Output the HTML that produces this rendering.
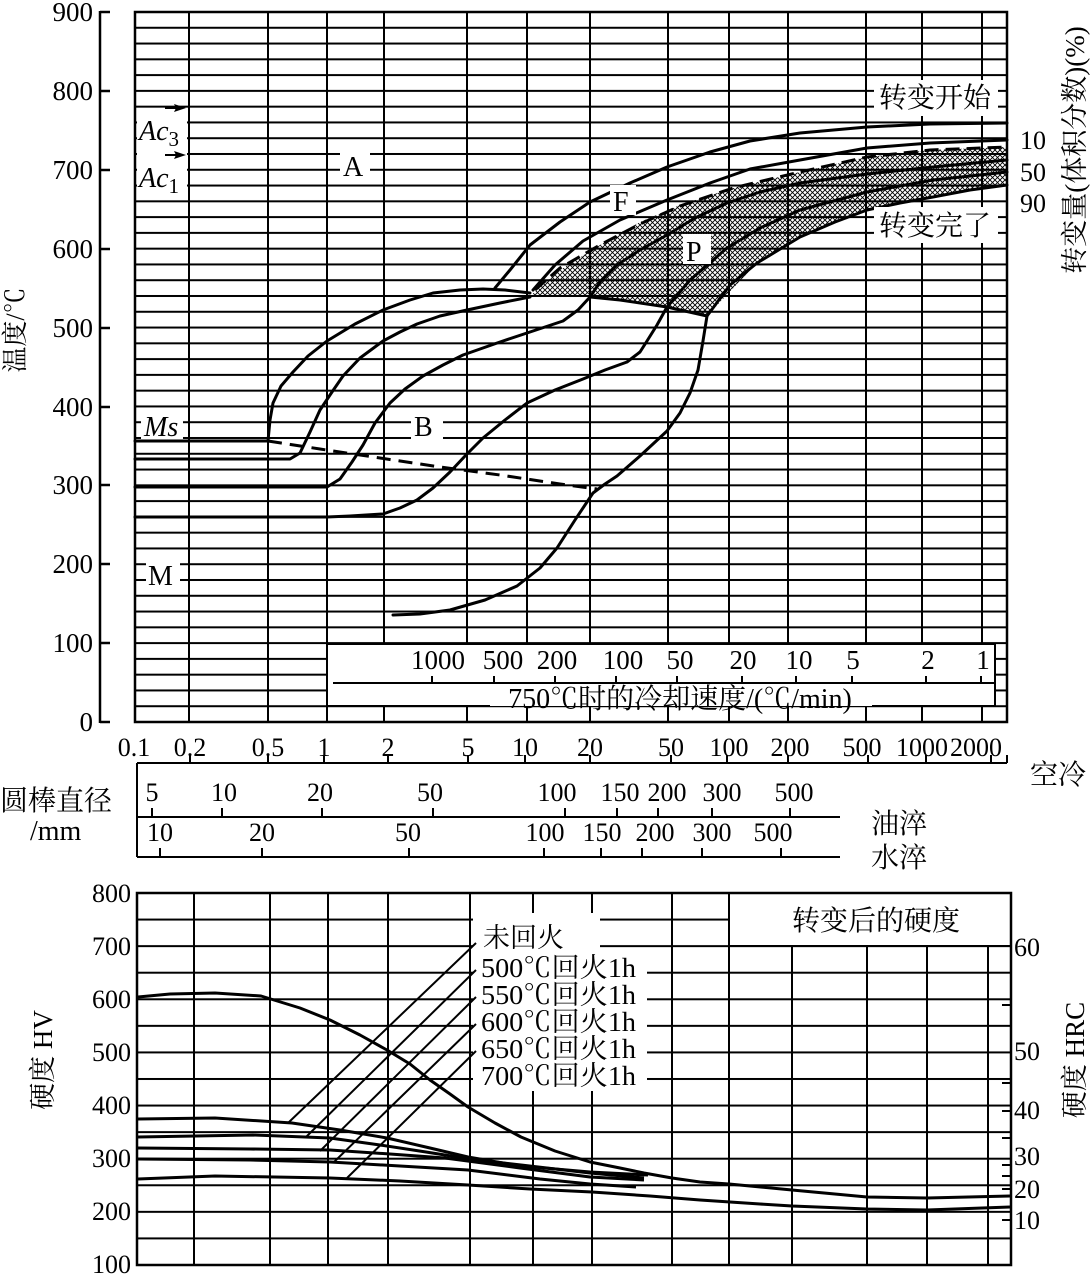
<!DOCTYPE html>
<html><head><meta charset="utf-8"><style>
html,body{margin:0;padding:0;background:#fff}
svg{display:block}
text{font-family:"Liberation Serif","Noto Serif CJK SC",serif;fill:#000}
</style></head><body>
<svg width="1091" height="1275" viewBox="0 0 1091 1275" xmlns="http://www.w3.org/2000/svg">
<defs>
<pattern id="hl" width="1091" height="15.778" patternUnits="userSpaceOnUse" patternTransform="translate(0,722)">
<rect x="0" y="-1" width="1091" height="2" fill="#000"/><rect x="0" y="14.778" width="1091" height="2" fill="#000"/>
</pattern>
<pattern id="hatch" width="5" height="5" patternUnits="userSpaceOnUse">
<path d="M0,0L5,5M5,0L0,5" stroke="#000" stroke-width="0.9"/>
</pattern>
<pattern id="hl2" width="1091" height="26.57" patternUnits="userSpaceOnUse" patternTransform="translate(0,893)">
<rect x="0" y="-1" width="1091" height="2" fill="#000"/><rect x="0" y="25.57" width="1091" height="2" fill="#000"/>
</pattern>
</defs>

<polygon fill="url(#hatch)" points="530,296 560,270 600,245 640,222 680,205 733,188 800,172 867,157 930,150 1007,147 1007,185 933,197 867,210 800,237 757,263 707,316 667,307 590,297"/>
<rect x="135" y="11" width="872" height="712" fill="url(#hl)"/>
<g stroke="#000" stroke-width="2">
<line x1="189" y1="12" x2="189" y2="722"/><line x1="268" y1="12" x2="268" y2="722"/>
<line x1="327" y1="12" x2="327" y2="722"/><line x1="384" y1="12" x2="384" y2="722"/>
<line x1="467" y1="12" x2="467" y2="722"/><line x1="527" y1="12" x2="527" y2="722"/>
<line x1="590" y1="12" x2="590" y2="722"/><line x1="668" y1="12" x2="668" y2="722"/>
<line x1="729" y1="12" x2="729" y2="722"/><line x1="788" y1="12" x2="788" y2="722"/>
<line x1="866" y1="12" x2="866" y2="722"/><line x1="922" y1="12" x2="922" y2="722"/>
<line x1="982" y1="12" x2="982" y2="722"/>
</g>
<rect x="328" y="645" width="667" height="61" fill="#fff"/>
<g stroke="#000" stroke-width="2">
<line x1="327" y1="644" x2="995" y2="644"/>
<line x1="333" y1="683" x2="995" y2="683"/>
<line x1="995" y1="644" x2="995" y2="706"/>
<line x1="327" y1="706" x2="490" y2="706"/><line x1="872" y1="706" x2="995" y2="706"/>
<line x1="432" y1="676" x2="432" y2="683"/><line x1="494" y1="676" x2="494" y2="683"/>
<line x1="555" y1="676" x2="555" y2="683"/><line x1="616" y1="676" x2="616" y2="683"/>
<line x1="677" y1="676" x2="677" y2="683"/><line x1="742" y1="676" x2="742" y2="683"/>
<line x1="796" y1="676" x2="796" y2="683"/><line x1="852" y1="676" x2="852" y2="683"/>
<line x1="926" y1="676" x2="926" y2="683"/><line x1="981" y1="676" x2="981" y2="683"/>
</g>
<g font-size="27" text-anchor="middle">
<text x="438" y="669">1000</text><text x="503" y="669">500</text><text x="557" y="669">200</text>
<text x="623" y="669">100</text><text x="680" y="669">50</text><text x="743" y="669">20</text>
<text x="799" y="669">10</text><text x="853" y="669">5</text><text x="928" y="669">2</text><text x="983" y="669">1</text>
<text x="680" y="708" font-size="28">750℃时的冷却速度/(℃/min)</text>
</g>
<rect x="135" y="12" width="872" height="710" fill="none" stroke="#000" stroke-width="2.5"/>
<g stroke="#000" stroke-width="2.5">
<line x1="100" y1="11" x2="100" y2="723"/>
<line x1="100" y1="12" x2="110" y2="12"/><line x1="100" y1="91" x2="110" y2="91"/>
<line x1="100" y1="170" x2="110" y2="170"/><line x1="100" y1="249" x2="110" y2="249"/>
<line x1="100" y1="328" x2="110" y2="328"/><line x1="100" y1="407" x2="110" y2="407"/>
<line x1="100" y1="485" x2="110" y2="485"/><line x1="100" y1="564" x2="110" y2="564"/>
<line x1="100" y1="643" x2="110" y2="643"/><line x1="100" y1="722" x2="110" y2="722"/>
</g>
<g font-size="27" text-anchor="end">
<text x="93" y="21">900</text><text x="93" y="100">800</text><text x="93" y="179">700</text>
<text x="93" y="258">600</text><text x="93" y="337">500</text><text x="93" y="416">400</text>
<text x="93" y="494">300</text><text x="93" y="573">200</text><text x="93" y="652">100</text><text x="93" y="731">0</text>
</g>
<text transform="translate(24,330) rotate(-90)" font-size="26" text-anchor="middle">温度/℃</text>

<g fill="none" stroke="#000" stroke-width="3" stroke-linejoin="round" stroke-linecap="round">
<polyline points="135,441 268,441"/>
<polyline points="268,441 270,420 273,403 281,386 293,372 308,356 327,341 355,324 383,310 410,300 433,293 460,290 483,289 505,290 530,293"/>
<polyline points="495,288 510,270 530,245 560,222 590,202 630,183 667,167 710,152 750,141 800,133 867,127 930,124 1007,123"/>
<polyline points="135,459 290,459 300,453 310,432 320,410 332,392 343,376 360,358 383,341 400,332 417,324 440,316 467,310 500,303 530,297"/>
<polyline points="135,487 327,487 340,479 352,462 363,445 375,423 390,403 405,389 423,376 443,365 463,355 500,342 533,331 563,321 578,310 590,297"/>
<polyline points="533,290 555,265 583,241 620,220 667,200 710,183 750,169 800,160 867,148 930,143 1007,140"/>
<polyline points="590,297 600,282 617,265 640,250 667,235 695,218 727,203 760,192 800,183 867,174 933,167 1007,160"/>
<polyline points="590,297 620,300 667,307 707,316"/>
<polyline points="667,307 690,280 727,248 760,228 800,210 867,192 933,180 1007,172"/>
<polyline points="707,316 730,285 757,263 800,237 835,222 867,210 900,203 933,197 970,190 1007,185"/>
<polyline points="135,517 327,517 350,516 383,514 400,508 417,500 433,488 450,472 466,455 483,438 505,420 527,403 555,390 583,379 605,370 627,362 640,352 647,341 657,325 667,307"/>
<polyline points="393,615 420,614 450,610 485,600 517,586 540,568 557,548 575,520 593,493 605,484 617,476 640,456 667,431 680,413 690,393 698,370 703,341 707,316"/>
</g>
<polyline points="268,441 320,449 380,458 440,467 500,475 560,484 597,489" fill="none" stroke="#000" stroke-width="3" stroke-dasharray="14,8"/>
<polyline points="535,290 560,268 600,245 640,224 680,206 733,188 800,172 867,157 930,150 1007,147" fill="none" stroke="#000" stroke-width="3" stroke-dasharray="14,7"/>

<g font-size="28">
<rect x="340" y="150" width="30" height="30" fill="#fff"/><text x="343" y="176">A</text>
<rect x="610" y="185" width="26" height="30" fill="#fff"/><text x="613" y="211">F</text>
<rect x="683" y="234" width="28" height="30" fill="#fff"/><text x="686" y="261">P</text>
<rect x="411" y="410" width="32" height="30" fill="#fff"/><text x="414" y="436">B</text>
<rect x="146" y="560" width="34" height="30" fill="#fff"/><text x="148" y="585">M</text>
<rect x="141" y="413" width="42" height="26" fill="#fff"/><text x="144" y="436" font-style="italic">Ms</text>
<rect x="137" y="115" width="50" height="76" fill="#fff"/>
<text x="139" y="140" font-style="italic">Ac<tspan font-size="21" dy="6" font-style="normal">3</tspan></text>
<text x="139" y="187" font-style="italic">Ac<tspan font-size="21" dy="6" font-style="normal">1</tspan></text>
</g>
<g stroke="#000" stroke-width="2"><line x1="165" y1="108" x2="180" y2="108"/><line x1="165" y1="155" x2="180" y2="155"/></g>
<polygon points="186,108 174,104 176,108 174,112" fill="#000"/>
<polygon points="186,155 174,151 176,155 174,159" fill="#000"/>
<rect x="874" y="80" width="124" height="36" fill="#fff"/>
<text x="879" y="107" font-size="28">转变开始</text>
<rect x="874" y="207" width="124" height="36" fill="#fff"/>
<text x="879" y="235" font-size="28">转变完了</text>
<g font-size="26"><text x="1020" y="149">10</text><text x="1020" y="181">50</text><text x="1020" y="212">90</text></g>
<text transform="translate(1084,150) rotate(-90)" font-size="27" text-anchor="middle">转变量(体积分数)(%)</text>

<g font-size="26" text-anchor="middle">
<text x="134" y="756">0.1</text><text x="190" y="756">0.2</text><text x="268" y="756">0.5</text>
<text x="324" y="756">1</text><text x="388" y="756">2</text><text x="468" y="756">5</text>
<text x="525" y="756">10</text><text x="590" y="756">20</text><text x="671" y="756">50</text>
<text x="729" y="756">100</text><text x="790" y="756">200</text><text x="862" y="756">500</text>
<text x="922" y="756">1000</text><text x="976" y="756">2000</text>
</g>
<g stroke="#000" stroke-width="2">
<line x1="137" y1="763" x2="1007" y2="763"/>
<line x1="137" y1="763" x2="137" y2="857"/>
<line x1="137" y1="817" x2="840" y2="817"/>
<line x1="137" y1="857" x2="840" y2="857"/>
<line x1="190" y1="763" x2="190" y2="755"/><line x1="268" y1="763" x2="268" y2="755"/>
<line x1="324" y1="763" x2="324" y2="755"/><line x1="388" y1="763" x2="388" y2="755"/>
<line x1="468" y1="763" x2="468" y2="755"/><line x1="525" y1="763" x2="525" y2="755"/>
<line x1="590" y1="763" x2="590" y2="755"/><line x1="671" y1="763" x2="671" y2="755"/>
<line x1="727" y1="763" x2="727" y2="755"/><line x1="788" y1="763" x2="788" y2="755"/>
<line x1="868" y1="763" x2="868" y2="755"/><line x1="926" y1="763" x2="926" y2="755"/>
<line x1="991" y1="763" x2="991" y2="755"/><line x1="1007" y1="763" x2="1007" y2="755"/>
<line x1="152" y1="817" x2="152" y2="808"/><line x1="222" y1="817" x2="222" y2="808"/>
<line x1="322" y1="817" x2="322" y2="808"/><line x1="433" y1="817" x2="433" y2="808"/>
<line x1="565" y1="817" x2="565" y2="808"/><line x1="617" y1="817" x2="617" y2="808"/>
<line x1="658" y1="817" x2="658" y2="808"/><line x1="712" y1="817" x2="712" y2="808"/>
<line x1="790" y1="817" x2="790" y2="808"/>
<line x1="160" y1="857" x2="160" y2="848"/><line x1="262" y1="857" x2="262" y2="848"/>
<line x1="409" y1="857" x2="409" y2="848"/><line x1="544" y1="857" x2="544" y2="848"/>
<line x1="601" y1="857" x2="601" y2="848"/><line x1="642" y1="857" x2="642" y2="848"/>
<line x1="702" y1="857" x2="702" y2="848"/><line x1="781" y1="857" x2="781" y2="848"/>
</g>
<g font-size="26" text-anchor="middle">
<text x="152" y="801">5</text><text x="224" y="801">10</text><text x="320" y="801">20</text>
<text x="430" y="801">50</text><text x="557" y="801">100</text><text x="620" y="801">150</text>
<text x="667" y="801">200</text><text x="722" y="801">300</text><text x="794" y="801">500</text>
<text x="160" y="841">10</text><text x="262" y="841">20</text><text x="408" y="841">50</text>
<text x="545" y="841">100</text><text x="602" y="841">150</text><text x="655" y="841">200</text>
<text x="712" y="841">300</text><text x="773" y="841">500</text>
</g>
<g font-size="28">
<text x="1030" y="784">空冷</text><text x="871" y="833">油淬</text><text x="871" y="867">水淬</text>
<text x="0" y="810">圆棒直径</text><text x="30" y="840">/mm</text>
</g>

<rect x="137" y="892" width="874" height="374" fill="url(#hl2)"/>
<g stroke="#000" stroke-width="2">
<line x1="194" y1="893" x2="194" y2="1265"/><line x1="270" y1="893" x2="270" y2="1265"/>
<line x1="328" y1="893" x2="328" y2="1265"/><line x1="388" y1="893" x2="388" y2="1265"/>
<line x1="470" y1="893" x2="470" y2="1265"/><line x1="533" y1="893" x2="533" y2="1265"/>
<line x1="592" y1="893" x2="592" y2="1265"/><line x1="672" y1="893" x2="672" y2="1265"/>
<line x1="729" y1="893" x2="729" y2="1265"/><line x1="792" y1="893" x2="792" y2="1265"/>
<line x1="867" y1="893" x2="867" y2="1265"/><line x1="927" y1="893" x2="927" y2="1265"/>
<line x1="988" y1="893" x2="988" y2="1265"/>
</g>
<rect x="730" y="894" width="280" height="51" fill="#fff"/>
<line x1="729" y1="946" x2="1010" y2="946" stroke="#000" stroke-width="2"/>
<text x="792" y="930" font-size="28">转变后的硬度</text>
<rect x="473" y="913" width="127" height="38" fill="#fff"/>
<rect x="473" y="951" width="174" height="140" fill="#fff"/>
<rect x="137" y="893" width="874" height="372" fill="none" stroke="#000" stroke-width="2.5"/>
<g font-size="27">
<text x="483" y="947">未回火</text>
<text x="481" y="977" textLength="155" lengthAdjust="spacingAndGlyphs">500℃回火1h</text>
<text x="481" y="1004" textLength="155" lengthAdjust="spacingAndGlyphs">550℃回火1h</text>
<text x="481" y="1031" textLength="155" lengthAdjust="spacingAndGlyphs">600℃回火1h</text>
<text x="481" y="1058" textLength="155" lengthAdjust="spacingAndGlyphs">650℃回火1h</text>
<text x="481" y="1085" textLength="155" lengthAdjust="spacingAndGlyphs">700℃回火1h</text>
</g>
<g stroke="#000" stroke-width="2">
<line x1="476" y1="943" x2="288" y2="1123"/>
<line x1="476" y1="970" x2="306" y2="1137"/>
<line x1="476" y1="997" x2="320" y2="1151"/>
<line x1="476" y1="1024" x2="334" y2="1162"/>
<line x1="476" y1="1051" x2="347" y2="1178"/>
</g>
<g fill="none" stroke="#000" stroke-width="3" stroke-linejoin="round">
<polyline points="138,997 170,994 215,993 261,996 300,1008 330,1020 360,1035 387,1050 410,1064 430,1080 450,1094 468,1107 495,1123 521,1137 555,1151 590,1162 620,1168 644,1173 672,1178 700,1182 729,1184 792,1190 867,1197 927,1198 1010,1196"/>
<polyline points="138,1119 215,1118 292,1123 340,1130 387,1138 430,1148 468,1157 521,1166 590,1172 648,1175"/>
<polyline points="138,1137 253,1135 330,1138 380,1145 426,1152 470,1159 521,1165 590,1173 644,1178"/>
<polyline points="138,1148 250,1149 330,1150 390,1154 445,1158 520,1168 590,1177 644,1180"/>
<polyline points="138,1159 250,1160 330,1162 400,1166 468,1170 540,1179 590,1184 636,1187"/>
<polyline points="138,1179 215,1176 330,1178 400,1181 468,1185 530,1189 592,1192 650,1196 700,1200 760,1204 792,1206 867,1209 927,1210 1010,1207"/>
</g>
<g font-size="26" text-anchor="end">
<text x="131" y="902">800</text><text x="131" y="955">700</text><text x="131" y="1008">600</text>
<text x="131" y="1061">500</text><text x="131" y="1114">400</text><text x="131" y="1167">300</text>
<text x="131" y="1220">200</text><text x="131" y="1273">100</text>
</g>
<text transform="translate(52,1060) rotate(-90)" font-size="27" text-anchor="middle">硬度  HV</text>
<g stroke="#000" stroke-width="2">
<line x1="1002" y1="1005" x2="1010" y2="1005"/><line x1="1002" y1="1083" x2="1010" y2="1083"/>
<line x1="1002" y1="1111" x2="1010" y2="1111"/><line x1="1002" y1="1138" x2="1010" y2="1138"/>
<line x1="1002" y1="1165" x2="1010" y2="1165"/><line x1="1002" y1="1176" x2="1010" y2="1176"/>
<line x1="1002" y1="1189" x2="1010" y2="1189"/><line x1="1002" y1="1220" x2="1010" y2="1220"/>
</g>
<g font-size="26">
<text x="1014" y="956">60</text><text x="1014" y="1060">50</text><text x="1014" y="1119">40</text>
<text x="1014" y="1165">30</text><text x="1014" y="1198">20</text><text x="1014" y="1229">10</text>
</g>
<text transform="translate(1084,1060) rotate(-90)" font-size="27" text-anchor="middle">硬度  HRC</text>
</svg>
</body></html>
